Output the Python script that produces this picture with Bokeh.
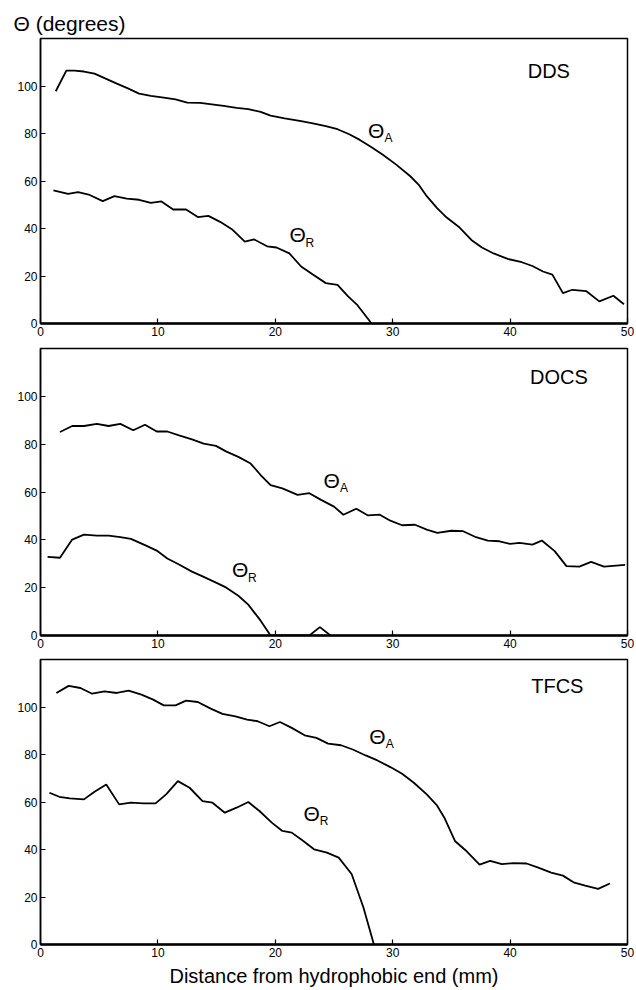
from bokeh.plotting import figure
from bokeh.layouts import column
from bokeh.models import Range1d, FixedTicker, Label
from bokeh.embed import file_html
from bokeh.resources import INLINE

FONT = "Liberation Sans"

x_ticks = [0, 10, 20, 30, 40, 50]
y_ticks = [0, 20, 40, 60, 80, 100]
y_title = "\u0398 (degrees)"
x_title = "Distance from hydrophobic end (mm)"
panel_names = ["DDS", "DOCS", "TFCS"]

# DDS
dds_adv_x = [1.3, 2.2, 2.9, 3.7, 4.6, 5.6, 6.5, 7.35, 8.4, 9.4, 10.5, 11.5, 12.5, 13.6, 14.6, 15.6,
             16.7, 17.7, 18.75, 19.6, 20.8, 22.2, 23.2, 24.3, 25.3, 26.3, 27.2, 28.1, 29.1, 30.3,
             31.5, 32.2, 32.9, 33.8, 34.6, 35.7, 36.7, 37.6, 38.6, 39.8, 41.0, 41.9, 42.8, 43.6,
             44.5, 45.3, 46.5, 47.6, 48.8, 49.7]
dds_adv_y = [97.8, 106.5, 106.5, 106.1, 105.2, 103.0, 101.0, 99.2, 96.8, 95.8, 95.1, 94.4, 93.0, 92.9,
             92.3, 91.6, 90.8, 90.3, 89.1, 87.5, 86.4, 85.2, 84.3, 83.1, 81.8, 79.7, 77.3, 74.5, 71.3,
             66.9, 62.0, 58.5, 53.6, 48.5, 44.6, 40.4, 35.2, 32.0, 29.5, 27.2, 25.8, 24.2, 21.9, 20.6,
             12.8, 14.2, 13.6, 9.3, 11.7, 8.1]
dds_rec_x = [1.1, 2.35, 3.2, 4.1, 5.3, 6.3, 7.35, 8.4, 9.4, 10.3, 11.3, 12.4, 13.4, 14.3, 15.3, 16.3,
             17.4, 18.2, 19.3, 20.1, 21.2, 22.2, 23.2, 24.3, 25.3, 26.2, 27.0, 28.2]
dds_rec_y = [56.1, 54.6, 55.3, 54.3, 51.5, 53.6, 52.6, 52.1, 50.8, 51.4, 48.0, 48.0, 44.8, 45.3, 42.8,
             39.7, 34.5, 35.4, 32.5, 32.0, 29.5, 24.0, 20.6, 17.0, 16.3, 11.4, 7.7, 0.0]

# DOCS
docs_adv_x = [1.66, 2.7, 3.7, 4.8, 5.8, 6.8, 7.9, 8.9, 9.9, 10.8, 11.8, 12.9, 13.9, 14.95, 15.8, 16.85,
              17.9, 18.75, 19.6, 20.6, 21.9, 22.9, 23.9, 25.0, 25.8, 26.9, 27.9, 28.9, 29.8, 30.8,
              31.9, 32.9, 33.8, 35.0, 36.0, 37.1, 38.1, 39.1, 40.0, 40.8, 41.9, 42.7, 43.8, 44.8,
              45.9, 46.9, 48.0, 49.8]
docs_adv_y = [85.1, 87.6, 87.6, 88.5, 87.6, 88.5, 85.8, 88.1, 85.3, 85.3, 83.7, 82.0, 80.2, 79.3, 77.0,
              74.7, 71.9, 67.1, 62.9, 61.5, 58.8, 59.5, 56.7, 53.9, 50.5, 53.0, 50.2, 50.5, 48.0, 46.1,
              46.3, 44.3, 42.9, 43.8, 43.6, 41.1, 39.7, 39.4, 38.3, 38.7, 38.0, 39.7, 35.3, 29.0, 28.8,
              30.8, 28.8, 29.5]
docs_rec_x = [0.6, 1.66, 2.7, 3.7, 4.8, 5.8, 6.8, 7.7, 8.9, 9.9, 10.8, 11.8, 12.9, 13.9, 14.95, 15.8,
              16.85, 17.7, 18.75, 19.6, 22.9, 23.8, 24.7]
docs_rec_y = [32.9, 32.5, 40.1, 42.2, 41.8, 41.8, 41.1, 40.4, 37.8, 35.5, 32.2, 29.7, 26.7, 24.5, 22.1,
              20.1, 16.6, 12.9, 6.2, 0.0, 0.0, 3.5, 0.0]

# TFCS
tfcs_adv_x = [1.35, 2.4, 3.4, 4.4, 5.45, 6.5, 7.5, 8.6, 9.6, 10.5, 11.5, 12.4, 13.4, 14.5, 15.5, 16.6,
              17.6, 18.5, 19.5, 20.4, 21.4, 22.5, 23.5, 24.5, 25.6, 26.6, 27.7, 28.7, 29.8, 30.8,
              31.8, 32.9, 33.75, 34.4, 35.3, 36.2, 37.4, 38.3, 39.3, 40.3, 41.4, 42.4, 43.5, 44.5,
              45.4, 46.4, 47.5, 48.5]
tfcs_adv_y = [105.9, 108.9, 108.0, 105.6, 106.6, 105.9, 106.9, 105.2, 103.1, 100.7, 100.7, 102.7, 102.1,
              99.3, 97.1, 96.1, 94.7, 94.0, 91.9, 93.7, 91.2, 88.1, 87.0, 84.6, 83.9, 82.1, 79.6, 77.5,
              74.7, 71.9, 68.1, 63.2, 58.7, 53.4, 43.6, 39.7, 33.6, 35.2, 33.8, 34.3, 34.1, 32.4, 30.3,
              29.0, 26.2, 24.8, 23.4, 25.7]
tfcs_rec_x = [0.76, 1.6, 2.5, 3.7, 4.6, 5.6, 6.7, 7.7, 8.75, 9.8, 10.7, 11.7, 12.7, 13.8, 14.65, 15.7,
              16.7, 17.7, 18.65, 19.7, 20.6, 21.4, 22.3, 23.3, 24.4, 25.4, 26.5, 27.5, 28.4]
tfcs_rec_y = [63.9, 62.2, 61.5, 61.1, 64.3, 67.4, 59.0, 59.7, 59.4, 59.4, 63.2, 68.8, 66.0, 60.4, 59.7,
              55.5, 57.6, 60.0, 56.2, 51.3, 47.8, 47.1, 43.9, 40.1, 38.7, 36.6, 29.7, 15.7, 0.0]


def make_panel(name, ax, ay, rx, ry, name_pos, a_pos, r_pos, frame_h, top, bottom, last=False,
               title=None):
    p = figure(frame_width=587, frame_height=frame_h,
               x_range=Range1d(0, 50), y_range=Range1d(0, 120),
               output_backend="svg", toolbar_location=None,
               min_border_left=40, min_border_right=9,
               min_border_top=top, min_border_bottom=bottom)
    p.background_fill_color = "white"
    p.border_fill_color = "white"
    p.outline_line_color = "black"
    p.outline_line_width = 1.5
    p.xgrid.visible = False
    p.ygrid.visible = False

    if title is not None:
        p.title.text = title
        p.title.text_font = FONT
        p.title.text_font_size = "21px"
        p.title.text_font_style = "normal"
        p.title.text_color = "black"
        p.title.align = "left"
        p.title.offset = -27
        p.title.standoff = 8

    p.xaxis.ticker = FixedTicker(ticks=x_ticks)
    p.yaxis.ticker = FixedTicker(ticks=y_ticks)
    for ax_ in (p.xaxis, p.yaxis):
        ax_.major_tick_in = 5
        ax_.major_tick_out = 0
        ax_.minor_tick_line_color = None
        ax_.major_tick_line_color = "black"
        ax_.major_tick_line_width = 1.2
        ax_.axis_line_color = "black"
        ax_.major_label_text_font = FONT
        ax_.major_label_text_font_size = "12px"
        ax_.major_label_text_color = "black"
        ax_.major_label_standoff = 3
    p.xaxis.axis_line_width = 2.5
    p.yaxis.axis_line_width = 1.5

    if last:
        p.xaxis.axis_label = x_title
        p.xaxis.axis_label_text_font = FONT
        p.xaxis.axis_label_text_font_size = "20px"
        p.xaxis.axis_label_text_font_style = "normal"
        p.xaxis.axis_label_text_color = "black"
        p.xaxis.axis_label_standoff = 5

    p.line(ax, ay, line_color="black", line_width=1.8)
    p.line(rx, ry, line_color="black", line_width=1.8)

    def lab(x, y, text, size, align="center"):
        p.add_layout(Label(x=x, y=y, text=text, text_font=FONT, text_font_size=size,
                           text_align=align, text_baseline="middle", text_color="black"))

    lab(name_pos[0], name_pos[1], name, "20px", "left")
    lab(a_pos[0], a_pos[1], "\u0398", "21px")
    lab(a_pos[0] + 1.05, a_pos[1] - 3.0, "A", "12px")
    lab(r_pos[0], r_pos[1], "\u0398", "21px")
    lab(r_pos[0] + 1.05, r_pos[1] - 3.2, "R", "12px")
    return p


p1 = make_panel(panel_names[0], dds_adv_x, dds_adv_y, dds_rec_x, dds_rec_y,
                (41.5, 106.5), (28.6, 81.3), (21.9, 37.3), 285, 38, 20, title=y_title)
p2 = make_panel(panel_names[1], docs_adv_x, docs_adv_y, docs_rec_x, docs_rec_y,
                (41.7, 107.9), (24.8, 64.7), (17.0, 27.4), 287, 5, 20)
p3 = make_panel(panel_names[2], tfcs_adv_x, tfcs_adv_y, tfcs_rec_x, tfcs_rec_y,
                (41.8, 109.0), (28.7, 87.4), (23.1, 55.1), 285, 4, 46, last=True)

layout = column(p1, p2, p3, spacing=0)
open("out.html", "w").write(file_html(layout, INLINE))
